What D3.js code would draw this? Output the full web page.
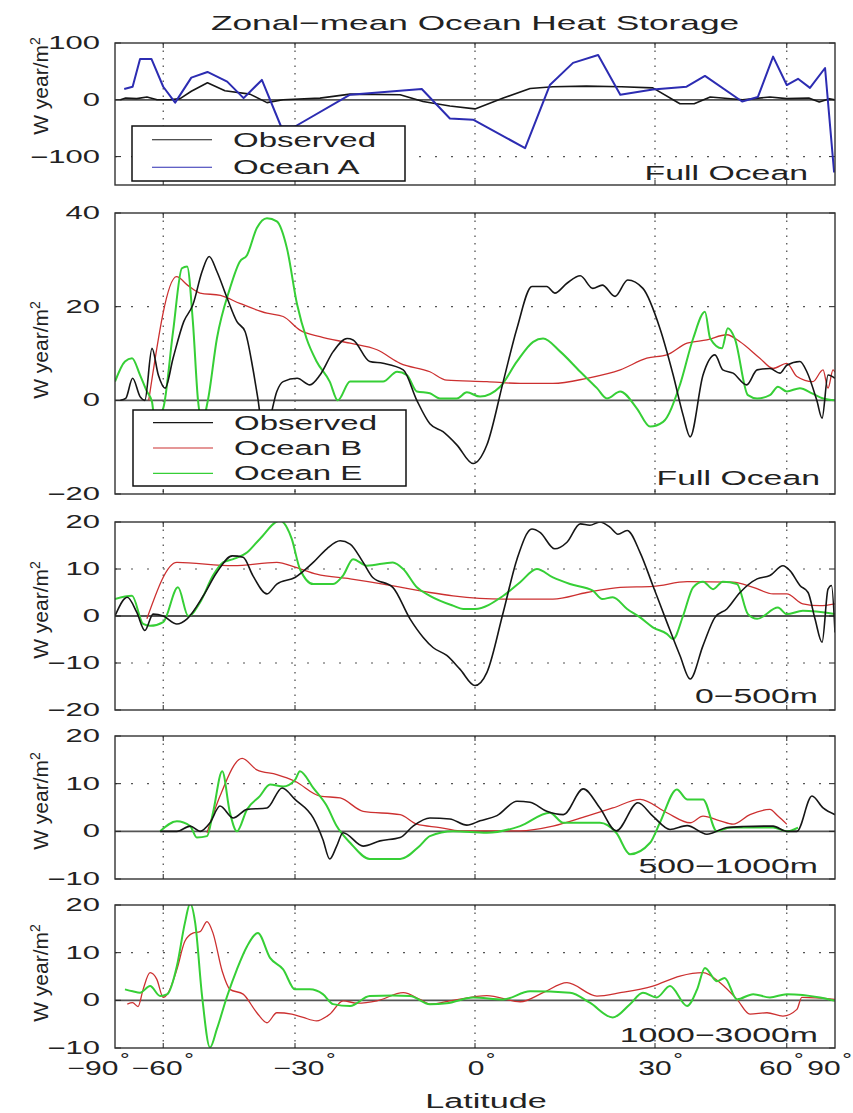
<!DOCTYPE html>
<html>
<head>
<meta charset="utf-8">
<script src="https://cdn.jsdelivr.net/npm/d3@7"></script>
<style>
  body { margin: 0; background: #fff; }
  svg { display: block; }
  text { font-family: "Liberation Sans", Arial, sans-serif; fill: #222; }
</style>
</head>
<body>
<svg id="chart" width="853" height="1113"></svg>
<script>
// ---- data (latitude in degrees, value in W year/m^2) ----
const latTicks = [-90, -60, -30, 0, 30, 60, 90];
const latGrid = [-60, -30, 0, 30, 60];

const legendA = ["Observed", "Ocean A"];
const legendB = ["Observed", "Ocean B", "Ocean E"];
const panelTags = ["Full Ocean", "Full Ocean", "0\u2212500m", "500\u22121000m", "1000\u22123000m"];

// panel 1: full ocean, coarse
const obsTop = [[-80,0],[-76,3],[-70,2],[-65.7,5],[-62,0],[-58,0],[-55,2],[-52,15],[-48,30],[-44,16],[-38.7,10],[-35.3,-5],[-32.2,0],[-25.5,3],[-20.3,10],[-12,9],[-8.3,-3],[-4,-11],[0,-16],[4.5,3],[8.8,20],[12.5,23],[18,24],[24,23],[29.6,21],[34.7,-7],[37.5,-7],[40.8,5],[48,0],[55,5],[60,2],[68,3],[73,-4],[80,2],[90,0]];
const oceanA = [[-77,19],[-72,23],[-68.5,72],[-64,72],[-60,23],[-56.4,-5],[-52,39],[-48,49],[-43.5,32],[-40,3],[-36.3,35],[-32.6,-47],[-30,-47],[-20.3,9],[-8.5,19],[-4,-33],[-0.3,-35],[8,-85],[12,26],[15.8,65],[20,79],[23.8,9],[29.6,18],[36,23],[39.7,42],[47.9,-3],[51.8,5],[55.9,76],[60,26],[63.8,37],[68.5,21],[76.5,56],[86,-128]];

// panel 2: full ocean
const obsFull = [[-80,0],[-76,0.4],[-72,4.7],[-68.5,0.8],[-66.5,0],[-63.8,11.1],[-61.6,5.4],[-59.4,2.6],[-57,9],[-54,16.8],[-51.6,20.4],[-49.3,27.5],[-47.6,30.7],[-45.8,27.5],[-43.5,21.8],[-41.4,16.8],[-39.7,14.7],[-38.1,6.8],[-37.1,0.4],[-36,-7],[-35,-5],[-33.4,1.9],[-32.2,4],[-29.6,4.7],[-27.3,3.3],[-25.5,5.4],[-23.2,10.4],[-20.8,13.2],[-19.8,12.9],[-17,8.3],[-14.8,7.9],[-11.5,6.5],[-9.3,0],[-7.2,-5],[-5.1,-6.7],[-2.9,-9.5],[-0.3,-13.5],[1.9,-9.5],[4.5,4],[6.7,15.4],[9.1,24.3],[11.5,24.3],[12.8,22.9],[14.8,25],[17,26.6],[19.1,23.9],[20.7,24.6],[22.9,22.2],[25.1,25.7],[27.8,23.9],[30.9,15.4],[33.4,5.4],[35.3,-3.1],[36.7,-7.8],[39.3,5.4],[41.8,9.7],[43.5,6.5],[45.8,5.8],[49,3.3],[51.6,6.5],[55,6.8],[57.9,5.8],[60,7.5],[64.5,8.3],[67.2,6.1],[71.7,0],[74.6,-3.8],[78.7,5.4],[90,4.7]];
const oceanBFull = [[-65,0],[-56,26.4],[-53,24.6],[-49.8,22.9],[-45,22.4],[-40.8,20.7],[-35.3,18.6],[-32.2,17.9],[-29.1,15],[-25.5,13.6],[-20.3,12.2],[-15.8,10.8],[-12,7.9],[-7.2,6.1],[-4.5,4.3],[1.9,4],[7.2,3.6],[12.5,3.6],[18.1,4.7],[23.8,6.5],[28.5,9],[32.2,9.7],[36.1,12.2],[40.1,12.9],[44.4,14],[47.4,12.5],[52.3,9],[55.9,6.8],[60,7.9],[63.4,5.1],[69.8,4],[75.2,6.5],[78.7,2.6],[84,6.5],[90,6]];
const oceanEFull = [[-90,4],[-76.5,8.3],[-72.3,9],[-68.5,5.4],[-65.7,1.9],[-63.8,-0.3],[-62.8,-4.6],[-60,-1.7],[-57,14.7],[-54.5,28.2],[-53.1,28.6],[-51.6,16.8],[-50.3,0],[-49.3,-4.6],[-47.9,0],[-45.8,13.2],[-42.9,23.9],[-40.8,29.6],[-39.3,31],[-37.3,36.8],[-35.3,38.9],[-33.4,38.2],[-31.5,32.5],[-29.6,20.4],[-27.9,13.2],[-26.1,8.3],[-23.8,4],[-22.4,0],[-20.3,4],[-14.8,4],[-12.5,6.1],[-10.9,5.4],[-9.3,1.9],[-7.2,1.5],[-5.6,0.4],[-2.9,0.4],[-1.3,1.7],[0.8,0.8],[4,2.9],[6.7,8.3],[9.3,12.5],[10.9,13.2],[13.7,10.4],[17,6.1],[19.8,2.6],[21.5,0.4],[23.8,1.9],[26.7,-1.7],[29.1,-5.6],[31.5,-4.6],[34.7,3.3],[37.3,13.2],[39.7,18.9],[40.8,13.2],[43.3,11.1],[44.6,15.4],[46.2,13.2],[49.3,1.1],[51.6,0.4],[55,1.1],[57.3,2.9],[60,1.9],[64.5,2.6],[69.4,1.5],[75.2,0.4],[90,0]];

// panel 3: 0-500 m
const obs500 = [[-90,0],[-75,4],[-70,0.8],[-66.5,-3.1],[-63.4,0.4],[-60,0],[-55.9,-1.7],[-53.1,-0.6],[-49,4.3],[-45.8,9.3],[-42.4,12.8],[-40.1,12.5],[-38.1,8.6],[-35.3,4.7],[-33.4,6.8],[-30,8.2],[-26.7,11.4],[-24.3,14.3],[-22,16],[-20.3,15.3],[-18.1,11.4],[-16.5,8.2],[-13.2,6.1],[-10.4,-0.6],[-8.3,-4.5],[-6.7,-6.7],[-4.5,-8.4],[-2.4,-11.3],[0,-14.8],[1.9,-12],[4.5,0.8],[6.7,12.1],[9.1,18.5],[10.4,17.8],[12.8,14.3],[14.8,15.7],[17,19.6],[18.6,19.3],[20.3,20],[22,18.9],[23.4,17.4],[25,18.2],[27.3,13.5],[29.6,6.5],[32.2,-1.3],[34.7,-8.4],[36.7,-13.4],[39.3,-6.3],[41.8,-0.3],[44.4,1.5],[47.4,5],[51.6,7.9],[55,8.6],[58.8,10.7],[61.1,9.6],[64.5,6.5],[67.7,5],[70.8,-0.6],[74.6,-5.6],[78.7,5.7],[82,6.5],[90,-3.5]];
const oceanB500 = [[-65.7,-0.6],[-55.9,11.4],[-42.2,10.7],[-33.4,11.4],[-30,10.4],[-26.1,8.9],[-20.3,7.9],[-14.8,6.8],[-7.2,5],[-3.5,4.3],[4.5,3.6],[12.5,3.6],[18.1,5],[23.8,6.1],[29.6,6.3],[36.1,7.3],[45.8,7.2],[50.6,6.1],[55.9,4.7],[60,4.7],[65.6,2.6],[73.4,2.2],[90,2.6]];
const oceanE500 = [[-90,3.6],[-72.3,4.3],[-67.2,-1.7],[-64.5,-2.1],[-60,-1.3],[-55.6,6.1],[-52.8,0],[-49.8,2.9],[-46.7,8.6],[-44.4,11.4],[-42.2,12.1],[-39.3,13.5],[-36.7,16.4],[-32.8,20.3],[-30.6,16.4],[-29.1,10],[-26.7,6.8],[-23.2,6.8],[-21.5,8.6],[-19.8,12.1],[-17.5,10.7],[-13.2,11.4],[-11.5,10],[-9.3,6.1],[-7.2,4.3],[-3.5,2.2],[-1.9,1.5],[0,1.5],[4.5,4.3],[7.2,7.2],[9.9,10],[12.5,8.2],[15.3,6.8],[19.1,5.4],[20.7,3.6],[22.5,4],[25,1.5],[27.3,-0.3],[29.6,-2.4],[32.2,-3.8],[33.4,-4.9],[35.3,0],[37.3,6.1],[39.3,7.3],[41.4,5.7],[43.5,7.3],[46.7,6.8],[49.3,0.4],[51.6,-0.6],[57.3,1.8],[60,0.4],[65.6,1.1],[90,0.4]];

// panel 4: 500-1000 m
const obs1000 = [[-61,0],[-55.9,0],[-52.3,1.1],[-49.8,0],[-47.4,1.8],[-45.1,5.3],[-42.2,2.8],[-39.3,4.6],[-35.3,4.9],[-32.4,9.1],[-30,6.7],[-26.7,2.8],[-25,-1.7],[-23.8,-5.8],[-22.6,-3.1],[-21.5,-0.3],[-18.1,-3.1],[-15.3,-2],[-12,-1.3],[-9.9,1.1],[-7.2,2.8],[-4,2.6],[-1.3,1.3],[0.8,2.2],[3.5,3.3],[6.7,6.3],[8.8,6.1],[11.5,4.2],[14.2,3.5],[17.5,8.9],[20.3,4.9],[23.1,0.1],[26.9,6],[29.6,3.2],[32.8,0.4],[36.1,1.2],[40.1,-0.6],[41.4,-0.3],[44.4,0.8],[48.1,1],[55.9,1.1],[60,0],[63.4,0],[69.4,7.4],[75.2,4.9],[90,3.5]];
const oceanB1000 = [[-48.1,-0.3],[-45.1,7.4],[-40.3,15.3],[-37.3,12.9],[-33.4,11.9],[-30,10.5],[-25.5,7.4],[-22,7],[-18.1,4.2],[-12,3.5],[-9.3,1.5],[-5.6,0.8],[-2.4,0.1],[7.2,0.1],[12.5,1.1],[18.1,3.2],[22.5,4.9],[27.3,6.7],[32.2,3.9],[36.7,1.8],[39.3,3.2],[42.9,2.2],[45.8,1.5],[49.8,3.5],[55,4.6],[57.3,3.2],[60,1.5]];
const oceanE1000 = [[-61,0],[-55.9,2.1],[-52.3,1.1],[-50.6,-1.3],[-48.1,-1],[-46.7,3.9],[-44.6,12.6],[-42.9,3.9],[-41.4,0],[-39.3,4.6],[-36.7,7.4],[-34.7,9.8],[-32.2,9.4],[-30,10.8],[-29.1,12.6],[-26.7,9.1],[-24.3,5.3],[-22.6,1.1],[-20.3,-2.4],[-17,-5.8],[-12,-5.8],[-8.8,-3],[-7.2,-1],[-3.5,0],[1.9,-0.3],[7.2,1.1],[12,3.9],[14.2,1.8],[20.3,1.8],[23.1,-0.3],[25.5,-4.8],[29.1,-2.4],[30.9,1.8],[34.1,8.8],[36.1,6.7],[39.3,6.7],[42.2,0],[45.1,0.8],[55.9,0.8],[60,0],[63.8,0.8]];

// panel 5: 1000-3000 m
const oceanB3000 = [[-75,-0.8],[-72,-0.5],[-69.4,-1.3],[-67.2,2.3],[-64.5,5.8],[-62.1,4.4],[-60,0.6],[-58.7,1.3],[-55.9,6.5],[-53.7,12.4],[-51.6,14.1],[-49.8,14.4],[-48.1,16.5],[-46.7,14.1],[-44.6,6.1],[-42.9,2.3],[-40.1,1.3],[-37.3,-2.6],[-35.3,-4.7],[-33.4,-2.6],[-30.6,-2.9],[-28.5,-3.6],[-26.1,-4.3],[-23.8,-2.9],[-21.5,-0.1],[-19.1,-0.6],[-15.8,-0.1],[-11.5,1.6],[-8.8,0.2],[-7.2,-0.8],[-3.5,0],[1.9,1],[7.2,-0.3],[10.9,1.6],[14.8,3.7],[19.8,0.9],[23.8,1.6],[29.6,3],[34.7,5.1],[39.3,5.8],[42.9,3.7],[46.7,0.2],[49.8,-2.9],[54.2,-2.6],[58.8,-3.3],[63.4,-1.9],[65.2,0.6],[90,0.2]];
const oceanE3000 = [[-76.5,2.3],[-72,1.9],[-68.5,1.6],[-64.5,3],[-61,0.9],[-58.7,1.3],[-55.9,7.2],[-53.7,16.2],[-52.3,20.3],[-51,16.2],[-49.3,0.9],[-47.4,-9.9],[-45.8,-6],[-43.5,0.9],[-41.4,6.5],[-39.3,11.3],[-37.1,14.1],[-34.7,8.9],[-32.2,6.5],[-30,2.3],[-27.3,2.3],[-25,1.3],[-23.2,-0.8],[-20.3,-1.2],[-17,0.9],[-13.2,1],[-10.4,0.9],[-7.2,-0.8],[-4.5,-0.6],[-0.3,0.6],[4.5,0.2],[8.8,1.9],[15.3,1.6],[18.6,-0.5],[22.5,-3.6],[25.5,-0.8],[27.8,1.6],[30.3,0.6],[32.8,3],[36.1,-1.2],[38.1,2.3],[39.7,6.8],[42.2,4],[43.9,4.7],[46.7,0.2],[50.6,1.3],[55,0.6],[60,1.3],[73.4,0.6],[90,-0.1]];

// ---- styles ----
const colors = { "Observed": "#161616", "Ocean A": "#2c2cb2", "Ocean B": "#cc3030", "Ocean E": "#36cf36" };
const widths = { "Observed": 1.6, "Ocean A": 2, "Ocean B": 1.3, "Ocean E": 2 };
const SX = 1.65; // glyphs in the picture are drawn wide

const panels = [
  { top: 43,  bottom: 185,  domain: [-150, 100], ticks: [-100, 0, 100],
    series: [["Observed", obsTop], ["Ocean A", oceanA]], legend: legendA,
    legendBox: [132, 126, 405, 181], tagRight: 808, tagY: 180, ylabY: 86 },
  { top: 213, bottom: 494,  domain: [-20, 40], ticks: [-20, 0, 20, 40],
    series: [["Ocean B", oceanBFull], ["Ocean E", oceanEFull], ["Observed", obsFull]], legend: legendB,
    legendBox: [133, 410, 406, 486], tagRight: 820, tagY: 485, ylabY: 350 },
  { top: 522, bottom: 710,  domain: [-20, 20], ticks: [-20, -10, 0, 10, 20],
    series: [["Ocean B", oceanB500], ["Ocean E", oceanE500], ["Observed", obs500]],
    tagRight: 818, tagY: 703, ylabY: 610 },
  { top: 736, bottom: 879,  domain: [-10, 20], ticks: [-10, 0, 10, 20],
    series: [["Ocean B", oceanB1000], ["Ocean E", oceanE1000], ["Observed", obs1000]],
    tagRight: 818, tagY: 873, ylabY: 801 },
  { top: 905, bottom: 1048, domain: [-10, 20], ticks: [-10, 0, 10, 20],
    series: [["Ocean B", oceanB3000], ["Ocean E", oceanE3000]],
    tagRight: 818, tagY: 1042, ylabY: 973 }
];

const svg = d3.select("#chart");
const left = 115, right = 835;

// latitude axis is linear in sin(latitude)
const xs = d3.scaleLinear().domain([-1, 1]).range([left, right]);
const xLat = lat => xs(Math.sin(lat * Math.PI / 180));
const fmt = d3.format("d");

function wideText(g, str, x, y, size, anchor, sx) {
  return g.append("text")
    .attr("transform", `translate(${x},${y}) scale(${sx},1)`)
    .attr("text-anchor", anchor)
    .style("font-size", size + "px")
    .text(str);
}

// title
wideText(svg, "Zonal\u2212mean Ocean Heat Storage", 475, 30, 21, "middle", 1.68);

panels.forEach((p, i) => {
  const g = svg.append("g");
  const y = d3.scaleLinear().domain(p.domain).range([p.bottom, p.top]);

  g.append("clipPath").attr("id", "clip" + i)
    .append("rect").attr("x", left).attr("y", p.top)
    .attr("width", right - left).attr("height", p.bottom - p.top);

  // dotted grid
  g.selectAll(".vgrid").data(latGrid).enter().append("line")
    .attr("x1", d => xLat(d)).attr("x2", d => xLat(d))
    .attr("y1", p.top).attr("y2", p.bottom)
    .attr("stroke", "#444").attr("stroke-width", 1.2)
    .attr("stroke-dasharray", "1.5,6");
  g.selectAll(".hgrid").data(p.ticks.filter(t => t !== 0 && t !== p.domain[0] && t !== p.domain[1]))
    .enter().append("line")
    .attr("x1", left).attr("x2", right)
    .attr("y1", d => y(d)).attr("y2", d => y(d))
    .attr("stroke", "#555").attr("stroke-width", 1.2)
    .attr("stroke-dasharray", "2,14");

  // zero line
  g.append("line")
    .attr("x1", left).attr("x2", right)
    .attr("y1", y(0)).attr("y2", y(0))
    .attr("stroke", "#555").attr("stroke-width", 1.8);

  // ticks (inward, both sides)
  latGrid.forEach(t => {
    g.append("line").attr("x1", xLat(t)).attr("x2", xLat(t))
      .attr("y1", p.bottom).attr("y2", p.bottom - 5).attr("stroke", "#222");
    g.append("line").attr("x1", xLat(t)).attr("x2", xLat(t))
      .attr("y1", p.top).attr("y2", p.top + 5).attr("stroke", "#222");
  });
  p.ticks.forEach(t => {
    g.append("line").attr("x1", left).attr("x2", left + 6)
      .attr("y1", y(t)).attr("y2", y(t)).attr("stroke", "#222");
    g.append("line").attr("x1", right).attr("x2", right - 6)
      .attr("y1", y(t)).attr("y2", y(t)).attr("stroke", "#222");
    wideText(g, fmt(t), 100, y(t) + 6, 18, "end", 1.72);
  });

  // series
  const line = d3.line()
    .x(d => xLat(d[0]))
    .y(d => y(d[1]))
    .curve(i === 0 ? d3.curveLinear : d3.curveMonotoneX);
  p.series.forEach(([name, pts]) => {
    g.append("path")
      .datum(pts)
      .attr("clip-path", `url(#clip${i})`)
      .attr("d", line)
      .attr("fill", "none")
      .attr("stroke", colors[name])
      .attr("stroke-width", widths[name])
      .attr("stroke-linejoin", "round");
  });

  // frame
  g.append("rect")
    .attr("x", left).attr("y", p.top)
    .attr("width", right - left).attr("height", p.bottom - p.top)
    .attr("fill", "none").attr("stroke", "#333").attr("stroke-width", 1.4);

  // legend
  if (p.legend) {
    const [lx0, ly0, lx1, ly1] = p.legendBox;
    g.append("rect")
      .attr("x", lx0).attr("y", ly0)
      .attr("width", lx1 - lx0).attr("height", ly1 - ly0)
      .attr("fill", "#fff").attr("stroke", "#111").attr("stroke-width", 1.5);
    const rowH = (ly1 - ly0) / p.legend.length;
    p.legend.forEach((name, k) => {
      const cy = ly0 + rowH * (k + 0.5);
      g.append("line")
        .attr("x1", lx0 + 20).attr("x2", lx0 + 80)
        .attr("y1", cy).attr("y2", cy)
        .attr("stroke", colors[name]).attr("stroke-width", 1.2);
      wideText(g, name, lx0 + 101, cy + 7, 20, "start", SX);
    });
  }

  // panel tag
  wideText(g, panelTags[i], p.tagRight, p.tagY, 20.5, "end", SX);

  // y label
  const yl = g.append("text")
    .attr("transform", `translate(48,${p.ylabY}) rotate(-90)`)
    .attr("text-anchor", "middle")
    .style("font-size", "21px");
  yl.append("tspan").text("W year/m");
  yl.append("tspan").attr("dy", -8).style("font-size", "14px").text("2");
});

// latitude tick labels under the last panel: number centred near the tick, raised degree ring after it
const last = panels[panels.length - 1];
const labelShift = { "-90": -22, "-60": -6, "-30": 4, "0": 1, "30": 0, "60": -11, "90": -11 };
const NSX = 1.5;
latTicks.forEach(t => {
  const cx = xLat(t) + labelShift[t];
  const txt = svg.append("text").style("font-size", "20px");
  const num = txt.append("tspan").text(fmt(t));
  txt.append("tspan").attr("dx", 1).attr("dy", -10).style("font-size", "16px").text("\u00b0");
  const w = num.node().getComputedTextLength() * NSX;
  txt.attr("transform", `translate(${cx - w / 2},${last.bottom + 27}) scale(${NSX},1)`);
});
wideText(svg, "Latitude", 486, 1108, 21, "middle", 1.63);
</script>
</body>
</html>
